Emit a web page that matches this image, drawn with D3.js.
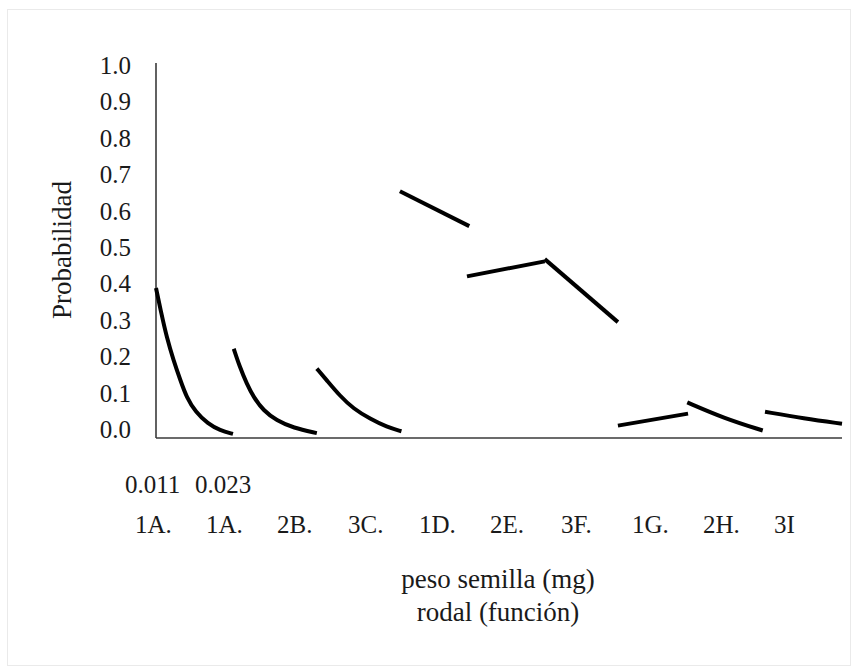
<!DOCTYPE html>
<html>
<head>
<meta charset="utf-8">
<script src="https://cdn.jsdelivr.net/npm/d3@7"></script>
<style>
  html, body { margin: 0; padding: 0; background: #ffffff; }
  svg { display: block; }
  svg text { font-family: "Liberation Serif", "Tinos", "DejaVu Serif", serif !important; fill: #1a1a1a; }
</style>
</head>
<body>
<svg id="chart" width="857" height="670"></svg>
<script>
// Category labels along the horizontal axis (rodal / función)
const categories = ["1A.", "1A.", "2B.", "3C.", "1D.", "2E.", "3F.", "1G.", "2H.", "3I"];
// Seed-weight labels shown for the first group
const weightLabels = ["0.011", "0.023"];
// Probability ticks
const yTicks = [0, 0.1, 0.2, 0.3, 0.4, 0.5, 0.6, 0.7, 0.8, 0.9, 1.0];

// Fitted probability curves, one per group: [position along axis, probability]
const curve1A_011 = [[0.00, 0.400], [0.07, 0.332], [0.14, 0.269], [0.23, 0.207], [0.32, 0.154],
                     [0.40, 0.109], [0.52, 0.069], [0.68, 0.038], [0.84, 0.020], [1.01, 0.011]];
const curve1A_023 = [[1.02, 0.238], [1.10, 0.189], [1.19, 0.145], [1.28, 0.109], [1.41, 0.073],
                     [1.58, 0.047], [1.80, 0.027], [2.11, 0.013]];
const curve2B = [[2.11, 0.185], [2.24, 0.154], [2.41, 0.113], [2.59, 0.078], [2.81, 0.051],
                 [3.03, 0.029], [3.22, 0.018]];
const curve3C = [[3.20, 0.658], [4.11, 0.565]];
const curve1D = [[4.08, 0.431], [5.10, 0.471]];
const curve2E = [[5.10, 0.477], [6.06, 0.309]];
const curve3F = [[6.06, 0.033], [6.98, 0.065]];
const curve1G = [[6.97, 0.095], [7.46, 0.052], [7.96, 0.020]];
const curve2H = [[7.99, 0.070], [8.50, 0.052], [9.00, 0.038]];

const series = [curve1A_011, curve1A_023, curve2B, curve3C, curve1D, curve2E, curve3F, curve1G, curve2H];

const svg = d3.select("#chart");

// Chart-area frame
svg.append("rect")
  .attr("x", 7.5).attr("y", 9.5)
  .attr("width", 843).attr("height", 656)
  .attr("fill", "#ffffff")
  .attr("stroke", "#d4d4d4")
  .attr("stroke-width", 1)
  .attr("stroke-dasharray", "1,1");

const x = d3.scaleLinear().domain([0, 9]).range([156, 842]);
const y = d3.scaleLinear().domain([0, 1]).range([438, 63]);
// Tick labels sit on a slightly tighter spacing than the plot area
const yLabel = d3.scaleLinear().domain([0, 1]).range([429, 65]);

// Vertical axis with labels
const yAxis = d3.axisLeft(yLabel)
  .tickValues(yTicks)
  .tickSize(0)
  .tickPadding(0)
  .tickFormat(d3.format(".1f"));
const gy = svg.append("g").attr("transform", "translate(131,0)").call(yAxis);
gy.attr("font-family", null).attr("font-size", null);
gy.select(".domain").remove();
gy.selectAll("text")
  .attr("font-size", 25)
  .attr("fill", "#1a1a1a")
  .attr("dy", "0.34em");

// Axis lines
svg.append("line")
  .attr("x1", x(0)).attr("x2", x(0))
  .attr("y1", y(1)).attr("y2", y(0))
  .attr("stroke", "#3a3a3a").attr("stroke-width", 1.6);
svg.append("line")
  .attr("x1", x(0)).attr("x2", x(9))
  .attr("y1", y(0)).attr("y2", y(0))
  .attr("stroke", "#3a3a3a").attr("stroke-width", 1.6);

// Curves
const line = d3.line()
  .x(d => x(d[0]))
  .y(d => y(d[1]))
  .curve(d3.curveBasis);

svg.append("g").selectAll("path")
  .data(series)
  .join("path")
  .attr("d", line)
  .attr("fill", "none")
  .attr("stroke", "#000000")
  .attr("stroke-width", 4)
  .attr("stroke-linecap", "butt")
  .attr("stroke-linejoin", "round");

// Horizontal category labels
const labelX = d3.scalePoint().domain(d3.range(categories.length)).range([135, 774]);
svg.append("g").selectAll("text")
  .data(categories)
  .join("text")
  .attr("x", (d, i) => labelX(i))
  .attr("y", 533)
  .attr("font-size", 25)
  .text(d => d);

svg.append("g").selectAll("text")
  .data(weightLabels)
  .join("text")
  .attr("x", (d, i) => labelX(0) - 10 + i * 70)
  .attr("y", 493)
  .attr("font-size", 25)
  .text(d => d);

// Axis titles
svg.append("text")
  .attr("transform", "translate(71,250) rotate(-90)")
  .attr("text-anchor", "middle")
  .attr("font-size", 27)
  .text("Probabilidad");

svg.append("text")
  .attr("x", 498).attr("y", 588)
  .attr("text-anchor", "middle")
  .attr("font-size", 27)
  .text("peso semilla (mg)");

svg.append("text")
  .attr("x", 498).attr("y", 621)
  .attr("text-anchor", "middle")
  .attr("font-size", 27)
  .text("rodal (función)");
</script>
</body>
</html>
